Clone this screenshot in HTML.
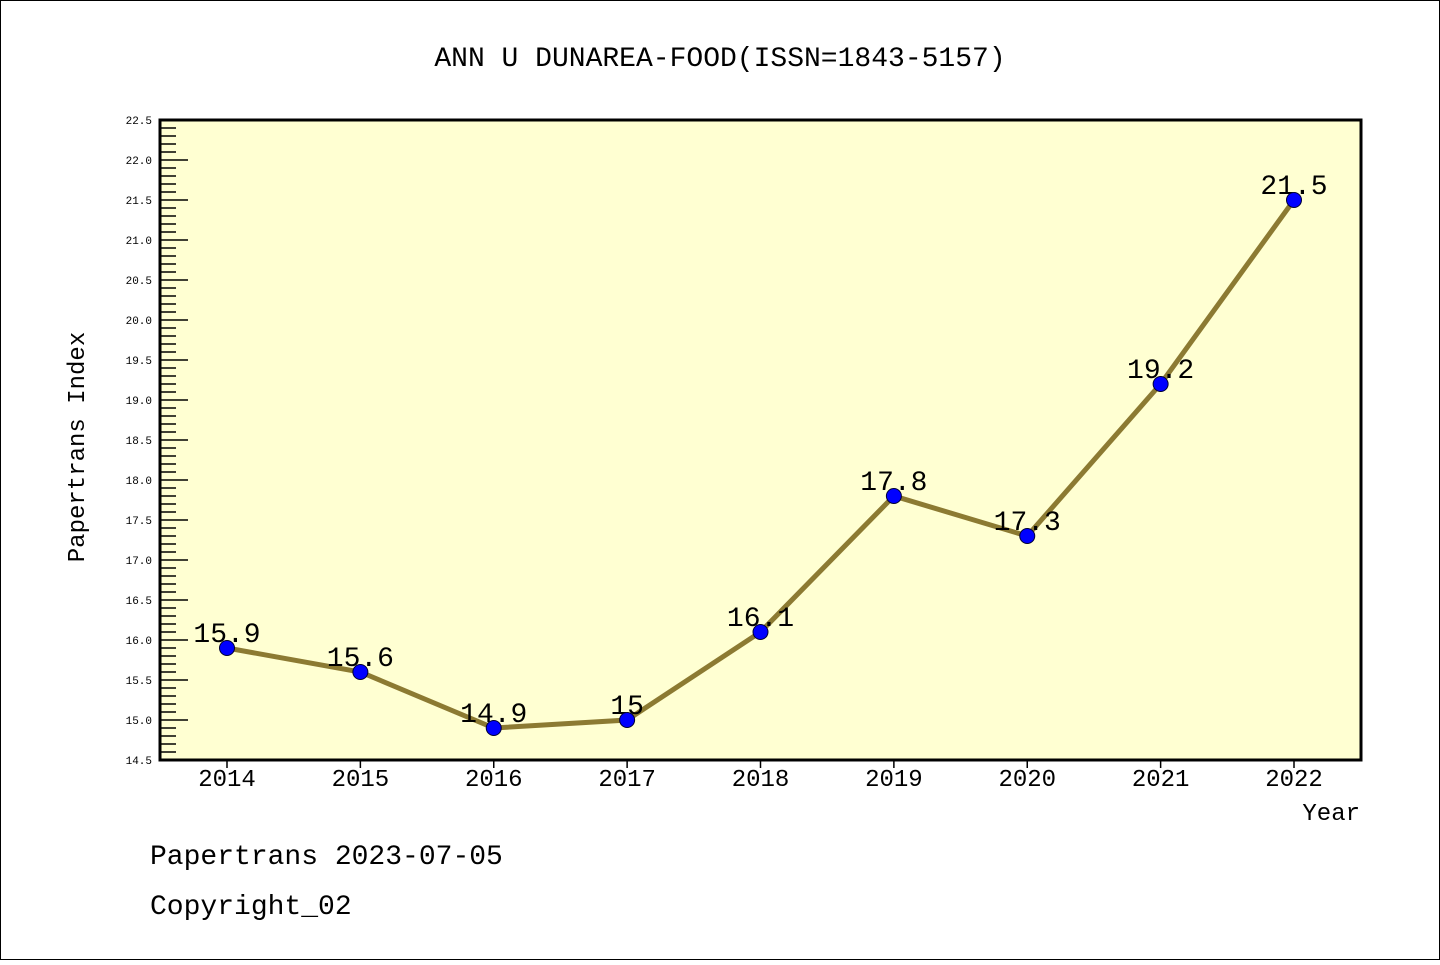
<!DOCTYPE html>
<html><head><meta charset="utf-8"><style>
body{margin:0;background:#fff}
svg text{font-family:"WenQuanYi Zen Hei Mono","WenQuanYi Zen Hei","Liberation Mono",monospace}
</style></head><body>
<svg id="chart" width="1440" height="960" xmlns="http://www.w3.org/2000/svg">
<rect x="0.5" y="0.5" width="1439" height="959" fill="#fff" stroke="#000"/>
<text x="720" y="66" text-anchor="middle" font-size="28">ANN U DUNAREA-FOOD(ISSN=1843-5157)</text>
<rect x="160" y="120" width="1201" height="640" fill="#ffffd2" stroke="#000" stroke-width="3"/>
<g id="yaxis"></g>
<g id="xaxis"></g>
<text transform="translate(84,447) rotate(-90)" text-anchor="middle" font-size="24">Papertrans Index</text>
<text x="1360" y="820" text-anchor="end" font-size="24">Year</text>
<g id="series"></g>
<text x="150" y="864" font-size="28">Papertrans 2023-07-05</text>
<text x="150" y="914" font-size="28">Copyright_02</text>
</svg>
<script>
const years=["2014","2015","2016","2017","2018","2019","2020","2021","2022"];
const values=[15.9,15.6,14.9,15.0,16.1,17.8,17.3,19.2,21.5];
const valueLabels=["15.9","15.6","14.9","15","16.1","17.8","17.3","19.2","21.5"];
const yTicks=["14.5","15.0","15.5","16.0","16.5","17.0","17.5","18.0","18.5","19.0","19.5","20.0","20.5","21.0","21.5","22.0","22.5"];
const NS="http://www.w3.org/2000/svg";
const yMin=14.5,yMax=22.5,pTop=120,pBot=760;
function ys(v){return pBot-(v-yMin)/(yMax-yMin)*(pBot-pTop);}
function xs(i){return 227+i*(1294-227)/(years.length-1);}
function mk(tag,attrs,parent){const e=document.createElementNS(NS,tag);for(const k in attrs)e.setAttribute(k,attrs[k]);parent.appendChild(e);return e;}
const ya=document.getElementById('yaxis'),xa=document.getElementById('xaxis'),sg=document.getElementById('series');
for(let k=0;k<=80;k++){const v=yMin+k*0.1;const y=ys(v);const major=k%5===0;
 const t=mk('line',{x1:160,x2:major?188:176,y1:y,y2:y,stroke:'#000','stroke-width':1.5},ya);
 
 }
yTicks.forEach(s=>{const t=mk('text',{x:152,y:ys(parseFloat(s))+4,'text-anchor':'end','font-size':11,'font-family':'DejaVu Sans, sans-serif'},ya);t.textContent=s;
 
 });
years.forEach((yr,i)=>{const x=xs(i);
 const l=mk('line',{x1:x,x2:x,y1:761,y2:768,stroke:'#000','stroke-width':1.5},xa);
 
 
 const t=mk('text',{x:x,y:786,'text-anchor':'middle','font-size':24},xa);t.textContent=yr;
 
 });
const pts=values.map((v,i)=>xs(i)+','+ys(v)).join(' ');
const pl=mk('polyline',{points:pts,fill:'none',stroke:'#8c7a32','stroke-width':5},sg);


values.forEach((v,i)=>{
 const t=mk('text',{x:xs(i),y:ys(v)-6,'text-anchor':'middle','font-size':28},sg);t.textContent=valueLabels[i];
 
 
 const c=mk('circle',{cx:xs(i),cy:ys(v),r:7.5,fill:'#0000ff',stroke:'#000033','stroke-width':1},sg);
 
 });
</script>
</body></html>
